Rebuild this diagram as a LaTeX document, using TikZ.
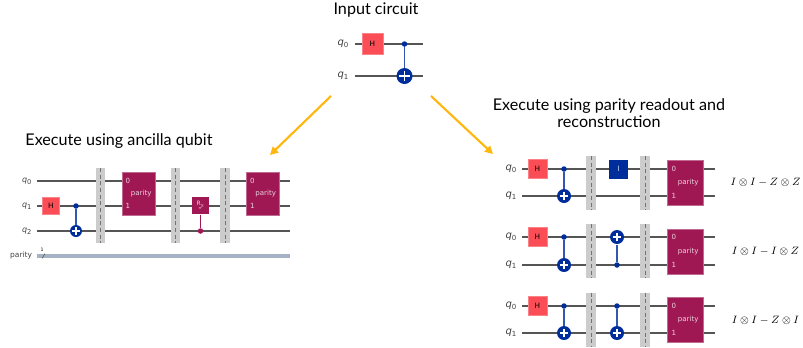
\documentclass[tikz,border=0pt]{standalone}
\usepackage{fontspec}
\setmainfont{Lato}
\newfontfamily\qfont{DejaVu Sans}
\definecolor{hred}{HTML}{FA4D56}
\definecolor{xblue}{HTML}{002D9C}
\definecolor{pmag}{HTML}{9F1853}
\definecolor{wiregray}{HTML}{555555}
\definecolor{bargray}{HTML}{CCCCCC}
\definecolor{clgray}{HTML}{A6B3C4}
\definecolor{arrowgold}{HTML}{FFB70F}
\newcommand{\qlab}[1]{{\qfont\itshape q}\textsubscript{\qfont #1}}
\usetikzlibrary{arrows.meta}
\tikzset{
	every picture/.style={line width=0.75pt},
	title/.style={align=center,font=\fontsize{12.1}{12.6}\selectfont,inner sep=0pt},
	wire/.style={draw=wiregray,line width=1.1pt},
	qname/.style={anchor=east,inner sep=0pt,text=black!75,font=\fontsize{#1}{#1}\selectfont},
	hgate/.style={fill=hred,draw=hred!70,inner sep=0pt,minimum size=#1*0.75pt,font=\qfont\fontsize{5.5}{5.5}\selectfont},
	igate/.style={fill=xblue,inner sep=0pt,minimum size=19*0.75pt,text=white!85!xblue,font=\qfont\fontsize{5.5}{5.5}\selectfont},
	ctrl/.style={circle,fill=#1,inner sep=0pt,minimum size=5.5*0.75pt},
	ctrl/.default=xblue,
	target/.style={circle,fill=xblue,inner sep=0pt,minimum size=#1*0.75pt,
		path picture={\draw[white,line width=0.9pt,shift={(path picture bounding box.center)}]
			(0,-#1*0.24pt) -- (0,#1*0.24pt)
			(-#1*0.24pt,0) -- (#1*0.24pt,0);}},
	link/.style={draw=xblue!80!white,line width=0.8pt},
	barrier/.style={fill=bargray,inner sep=0pt,minimum width=#1*0.75pt,
		path picture={\draw[black!55,line width=0.4pt,densely dashed]
			(path picture bounding box.north) -- (path picture bounding box.south);}},
	parity/.style={fill=pmag,draw=pmag!65,line width=0.4pt,inner sep=0pt,text=white!80!pmag,font=\qfont\fontsize{5.3}{6}\selectfont},
	pin/.style={inner sep=0pt,text=white!80!pmag,font=\qfont\fontsize{5.3}{6}\selectfont},
	route/.style={draw=arrowgold,line width=1.6pt,-{Triangle[length=6pt,width=6pt]}},
}
\begin{document}
\begin{tikzpicture}[x=0.75pt,y=0.75pt,yscale=-1,xscale=1]
	\useasboundingbox (0,0) rectangle (803,347);

	% Input circuit
	\node [title] (inputtitle) at (376,9.5) {Input circuit};
	\node [qname=7.5] (top0) at (349.5,44) {\qlab{0}};
	\node [qname=7.5] (top1) at (349.5,76) {\qlab{1}};
	\coordinate (top0a) at (355,44);
	\coordinate (top0b) at (423,44);
	\coordinate (top1a) at (355,76);
	\coordinate (top1b) at (423,76);
	\draw [wire] (top0a) -- (top0b);
	\draw [wire] (top1a) -- (top1b);
	\node [hgate=21] (toph) at (372.5,44) {H};
	\node [ctrl] (topc) at (404.5,44) {};
	\node [target=16] (topt) at (404.5,76) {};
	\draw [link] (topc) -- (topt);

	% Arrows
	\coordinate (arrowa) at (331,96);
	\coordinate (arrowb) at (270,155);
	\coordinate (arrowc) at (431,96);
	\coordinate (arrowd) at (493,154);
	\draw [route] (arrowa) -- (arrowb);
	\draw [route] (arrowc) -- (arrowd);

	% Ancilla circuit
	\node [title] (ancillatitle) at (119,141.5) {Execute using ancilla qubit};
	\foreach \i/\y in {0/181,1/206,2/231}{
		\node [qname=6] (anc\i) at (32.5,\y) {\qlab{\i}};
		\coordinate (anc\i a) at (37,\y);
		\coordinate (anc\i b) at (290,\y);
		\draw [wire] (anc\i a) -- (anc\i b);
	}
	\node [anchor=east,inner sep=0pt,text=black!75,font=\qfont\fontsize{5.6}{7}\selectfont] (ancp) at (32.5,255.5) {parity};
	\coordinate (ancpa) at (37,256);
	\coordinate (ancpb) at (290,256);
	\draw [draw=clgray,line width=2.4pt] (ancpa) -- (ancpb);
	\coordinate (slasha) at (42,258.5);
	\coordinate (slashb) at (45,253.5);
	\draw [draw=wiregray,line width=0.4pt] (slasha) -- (slashb);
	\node [inner sep=0pt,font=\qfont\fontsize{3.5}{4}\selectfont] (ancpn) at (42,250) {1};
	\node [hgate=17] (anch) at (51,206) {H};
	\node [ctrl] (ancc) at (76,206) {};
	\node [target=12] (anct) at (76,231) {};
	\draw [link] (ancc) -- (anct);
	\foreach \n/\x in {a/100.5,b/175.5,c/225}
		\node [barrier=9.5,minimum height=75*0.75pt] (ancb\n) at (\x,205.5) {};
	\foreach \n/\x in {a/138.5,b/263}{
		\node [parity,minimum width=33*0.75pt,minimum height=43*0.75pt] (ancpar\n) at (\x,193.5) {\hspace*{4pt}parity};
		\node [pin,anchor=west] (ancpar\n0) at (\x-13.5,181) {0};
		\node [pin,anchor=west] (ancpar\n1) at (\x-13.5,205.5) {1};
	}
	\node [ctrl=pmag] (ancrc) at (200.5,231) {};
	\node [fill=pmag,inner sep=0pt,minimum size=17*0.75pt,text=white!80!pmag,align=center,font=\qfont\fontsize{4.5}{3.5}\selectfont] (ancr) at (200.5,205.5) {R\textsubscript{X}\\[-0.5pt]\scalebox{0.7}{$\pi$}};
	\draw [draw=pmag,line width=0.8pt] (ancr) -- (ancrc);

	% Parity readout circuits
	\node [title] (readouttitle) at (609,113) {Execute using parity readout and\\reconstruction};
	\foreach \n/\ya/\yb/\ybar/\ypar/\eqn in {a/169/196/183/182.5/{I\otimes I-Z\otimes Z},b/237/265/251/251.5/{I\otimes I-I\otimes Z},c/306/333/319.5/320/{I\otimes I-Z\otimes I}}{
		\node [qname=7.5] (\n0) at (517.5,\ya) {\qlab{0}};
		\node [qname=7.5] (\n1) at (517.5,\yb) {\qlab{1}};
		\coordinate (\n0a) at (522,\ya);
		\coordinate (\n0b) at (715,\ya);
		\coordinate (\n1a) at (522,\yb);
		\coordinate (\n1b) at (715,\yb);
		\draw [wire] (\n0a) -- (\n0b);
		\draw [wire] (\n1a) -- (\n1b);
		\node [hgate=19] (\n h) at (537.5,\ya) {H};
		\node [ctrl] (\n c) at (564,\ya) {};
		\node [target=14] (\n t) at (564,\yb) {};
		\draw [link] (\n c) -- (\n t);
		\node [barrier=10,minimum height=54*0.75pt] (\n ba) at (591,\ybar) {};
		\node [barrier=10,minimum height=54*0.75pt] (\n bb) at (645,\ybar) {};
		\node [parity,minimum width=35.5*0.75pt,minimum height=45*0.75pt] (\n par) at (685.5,\ypar) {\hspace*{4pt}parity};
		\node [pin,anchor=west] (\n par0) at (671,\ya) {0};
		\node [pin,anchor=west] (\n par1) at (671,\yb) {1};
		\node [inner sep=0pt,font=\fontsize{7.9}{10}\selectfont] (\n eq) at (765.5,\ypar) {$\eqn$};
	}
	\node [igate] (ai) at (618.5,169) {I};
	\node [ctrl] (bc2) at (617,265) {};
	\node [target=14] (bt2) at (617,237) {};
	\draw [link] (bc2) -- (bt2);
	\node [ctrl] (cc2) at (617,306) {};
	\node [target=14] (ct2) at (617,333) {};
	\draw [link] (cc2) -- (ct2);

\end{tikzpicture}
\end{document}
